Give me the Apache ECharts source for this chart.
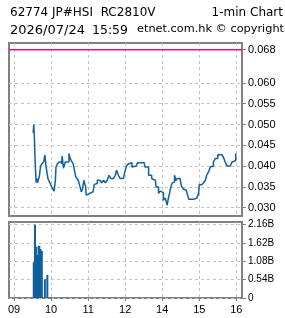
<!DOCTYPE html>
<html>
<head>
<meta charset="utf-8">
<script src="https://cdn.jsdelivr.net/npm/echarts@6/dist/echarts.min.js"></script>
<style>
html,body{margin:0;padding:0;background:#fff;}
#c{width:285px;height:318px;}
</style>
</head>
<body>
<div id="c"></div>
<script>
// ---- data ----
const priceTimes = ['09:31','09:32','09:33','09:34','09:35','09:36','09:37','09:38','09:41','09:43','09:45','09:48','09:50','09:52','09:55','09:57','09:58','10:01','10:04','10:05','10:07','10:08','10:10','10:13','10:17','10:18','10:20','10:23','10:25','10:29','10:31','10:34','10:36','10:37','10:40','10:43','10:44','10:47','10:49','10:51','10:53','10:56','10:57','10:59','11:00','11:02','11:04','11:08','11:10','11:13','11:15','11:19','11:22','11:25','11:28','11:31','11:34','11:37','11:41','11:44','11:46','11:49','11:52','11:57','11:59','13:02','13:05','13:08','13:11','13:13','13:18','13:20','13:31','13:32','13:35','13:38','13:40','13:43','13:46','13:49','13:50','13:52','13:54','13:57','13:59','14:02','14:05','14:08','14:10','14:12','14:14','14:16','14:18','14:20','14:22','14:24','14:26','14:29','14:31','14:34','14:36','14:39','14:42','14:43','14:51','14:53','14:56','14:59','15:00','15:04','15:07','15:10','15:12','15:15','15:18','15:20','15:23','15:26','15:30','15:37','15:40','15:42','15:45','15:50','15:53','15:56','15:59'];
const priceValues = [0.048,0.050,0.047,0.042,0.0385,0.036,0.037,0.036,0.0375,0.040,0.0405,0.041,0.0427,0.0398,0.037,0.0366,0.036,0.035,0.035,0.034,0.0366,0.0398,0.0405,0.041,0.0405,0.0424,0.0395,0.041,0.041,0.043,0.0418,0.041,0.0405,0.0397,0.0374,0.0374,0.0366,0.035,0.0338,0.0345,0.0366,0.035,0.033,0.033,0.0334,0.033,0.0338,0.0338,0.0356,0.0358,0.0366,0.0366,0.036,0.0366,0.036,0.0366,0.0378,0.037,0.037,0.0378,0.039,0.0378,0.037,0.037,0.0383,0.040,0.0405,0.0408,0.0398,0.040,0.040,0.0408,0.0408,0.0398,0.0398,0.0378,0.0378,0.037,0.0366,0.0366,0.035,0.035,0.0335,0.034,0.0336,0.0318,0.0323,0.0306,0.0323,0.0335,0.035,0.0359,0.0362,0.0378,0.0365,0.037,0.037,0.0366,0.0352,0.0345,0.0342,0.0342,0.0326,0.032,0.032,0.0323,0.0323,0.0335,0.0355,0.0355,0.036,0.0366,0.0378,0.0386,0.0398,0.040,0.041,0.0418,0.0427,0.0427,0.0418,0.041,0.040,0.040,0.041,0.0413,0.043];
const refLevel = 0.068;
const volTimes = ['09:32','09:33','09:34','09:36','09:37','09:38','09:40','09:41','09:42','09:43','09:44','09:45','09:50','09:54'];
const volValues = [1.05e9,1.05e9,2.15e9,1.50e9,0.75e9,1.26e9,1.53e9,1.53e9,1.43e9,1.43e9,1.38e9,1.38e9,0.55e9,0.68e9];
const xTickHours = [9,10,11,12,13,14,15];
const xTickLabels = ['09','10','11','12','14','15','16'];
const priceTicks = [0.030,0.035,0.040,0.045,0.050,0.055,0.060,0.068];
const volTicks = [0,0.54e9,1.08e9,1.62e9,2.16e9];
const titleLine1 = '62774 JP#HSI  RC2810V';
const titleRight1 = '1-min Chart';
const dateText = '2026/07/24';
const timeText = '15:59';
const copyText = 'etnet.com.hk © copyright';

// trading-time axis: lunch break (12:00-13:00) compressed
function toAxis(t){
  const p = t.split(':');
  let v = +p[0] + (+p[1])/60;
  if (v >= 13) v -= 1;
  return v;
}
const XMIN = 8.865, XMAX = 15.154;
const priceData = priceTimes.map((t,i)=>[toAxis(t), priceValues[i]]);
const refData = [[XMIN, refLevel],[XMAX, refLevel]];
const volData = volTimes.map((t,i)=>[toAxis(t), volValues[i]]);

const lineColor = '#12609e';
const gridColor = '#c4c4c4';
const borderColor = '#808080';
const lblFont = {fontFamily:'Liberation Sans', fontSize:11, color:'#000'};

const chart = echarts.init(document.getElementById('c'), null, {renderer:'canvas'});
chart.setOption({
  animation:false,
  backgroundColor:'#fff',
  graphic:[
    {type:'text', left:10, top:7, style:{text:titleLine1, font:'12px "DejaVu Sans"', fill:'#000'}},
    {type:'text', right:2, top:7, style:{text:titleRight1, font:'12px "DejaVu Sans"', fill:'#000'}},
    {type:'text', left:10, top:24, style:{text:dateText, font:'13px "DejaVu Sans"', fill:'#000'}},
    {type:'text', left:92, top:24, style:{text:timeText, font:'12.5px "DejaVu Sans"', fill:'#000'}},
    {type:'text', right:1, top:24, style:{text:copyText, font:'11.3px "DejaVu Sans"', fill:'#000'}}
  ],
  grid:[
    {left:9, top:43, right:43, height:173, show:true, borderColor:borderColor, borderWidth:2, backgroundColor:'#fff'},
    {left:9, top:222, right:43, height:76, show:true, borderColor:borderColor, borderWidth:2, backgroundColor:'#fff'}
  ],
  xAxis:[
    {type:'value', gridIndex:0, min:XMIN, max:XMAX,
     axisLine:{show:false}, axisTick:{show:false, customValues:xTickHours},
     axisLabel:{show:false, customValues:xTickHours},
     splitLine:{show:true, lineStyle:{color:gridColor, type:[3,3], width:1}}},
    {type:'value', gridIndex:1, min:XMIN, max:XMAX,
     axisLine:{show:false}, axisTick:{show:true, length:3, customValues:xTickHours, lineStyle:{color:borderColor}},
     axisLabel:Object.assign({show:true, margin:6, customValues:xTickHours,
       formatter:function(v){const i=xTickHours.indexOf(Math.round(v)); return i>=0?xTickLabels[i]:'';}}, lblFont),
     splitLine:{show:true, lineStyle:{color:gridColor, type:[3,3], width:1}}}
  ],
  yAxis:[
    {type:'value', gridIndex:0, position:'right', min:0.028, max:0.0696,
     axisLine:{show:false}, axisTick:{show:true, length:4, customValues:priceTicks, lineStyle:{color:borderColor}},
     axisLabel:Object.assign({show:true, margin:6, customValues:priceTicks,
       formatter:function(v){return v.toFixed(3);}}, lblFont),
     splitLine:{show:true, lineStyle:{color:gridColor, type:[3,3], width:1}}},
    {type:'value', gridIndex:1, position:'right', min:0, max:2.23e9,
     axisLine:{show:false}, axisTick:{show:true, length:4, customValues:volTicks, lineStyle:{color:borderColor}},
     axisLabel:{show:true, margin:6, customValues:volTicks, fontFamily:'Liberation Sans', fontSize:10, color:'#000',
       formatter:function(v){return v===0?'0':(v/1e9).toFixed(2)+'B';}},
     splitLine:{show:true, lineStyle:{color:gridColor, type:[3,3], width:1}}}
  ],
  series:[
    {type:'line', xAxisIndex:0, yAxisIndex:0, data:refData, showSymbol:false, silent:true,
     lineStyle:{color:'#ff0a78', width:1.5}, z:3},
    {type:'line', xAxisIndex:0, yAxisIndex:0, data:priceData, step:'end', showSymbol:false,
     lineStyle:{color:lineColor, width:1.5}, silent:true, z:4},
    {type:'bar', xAxisIndex:1, yAxisIndex:1, data:volData, barWidth:2,
     itemStyle:{color:lineColor}, silent:true}
  ]
});
</script>
</body>
</html>
